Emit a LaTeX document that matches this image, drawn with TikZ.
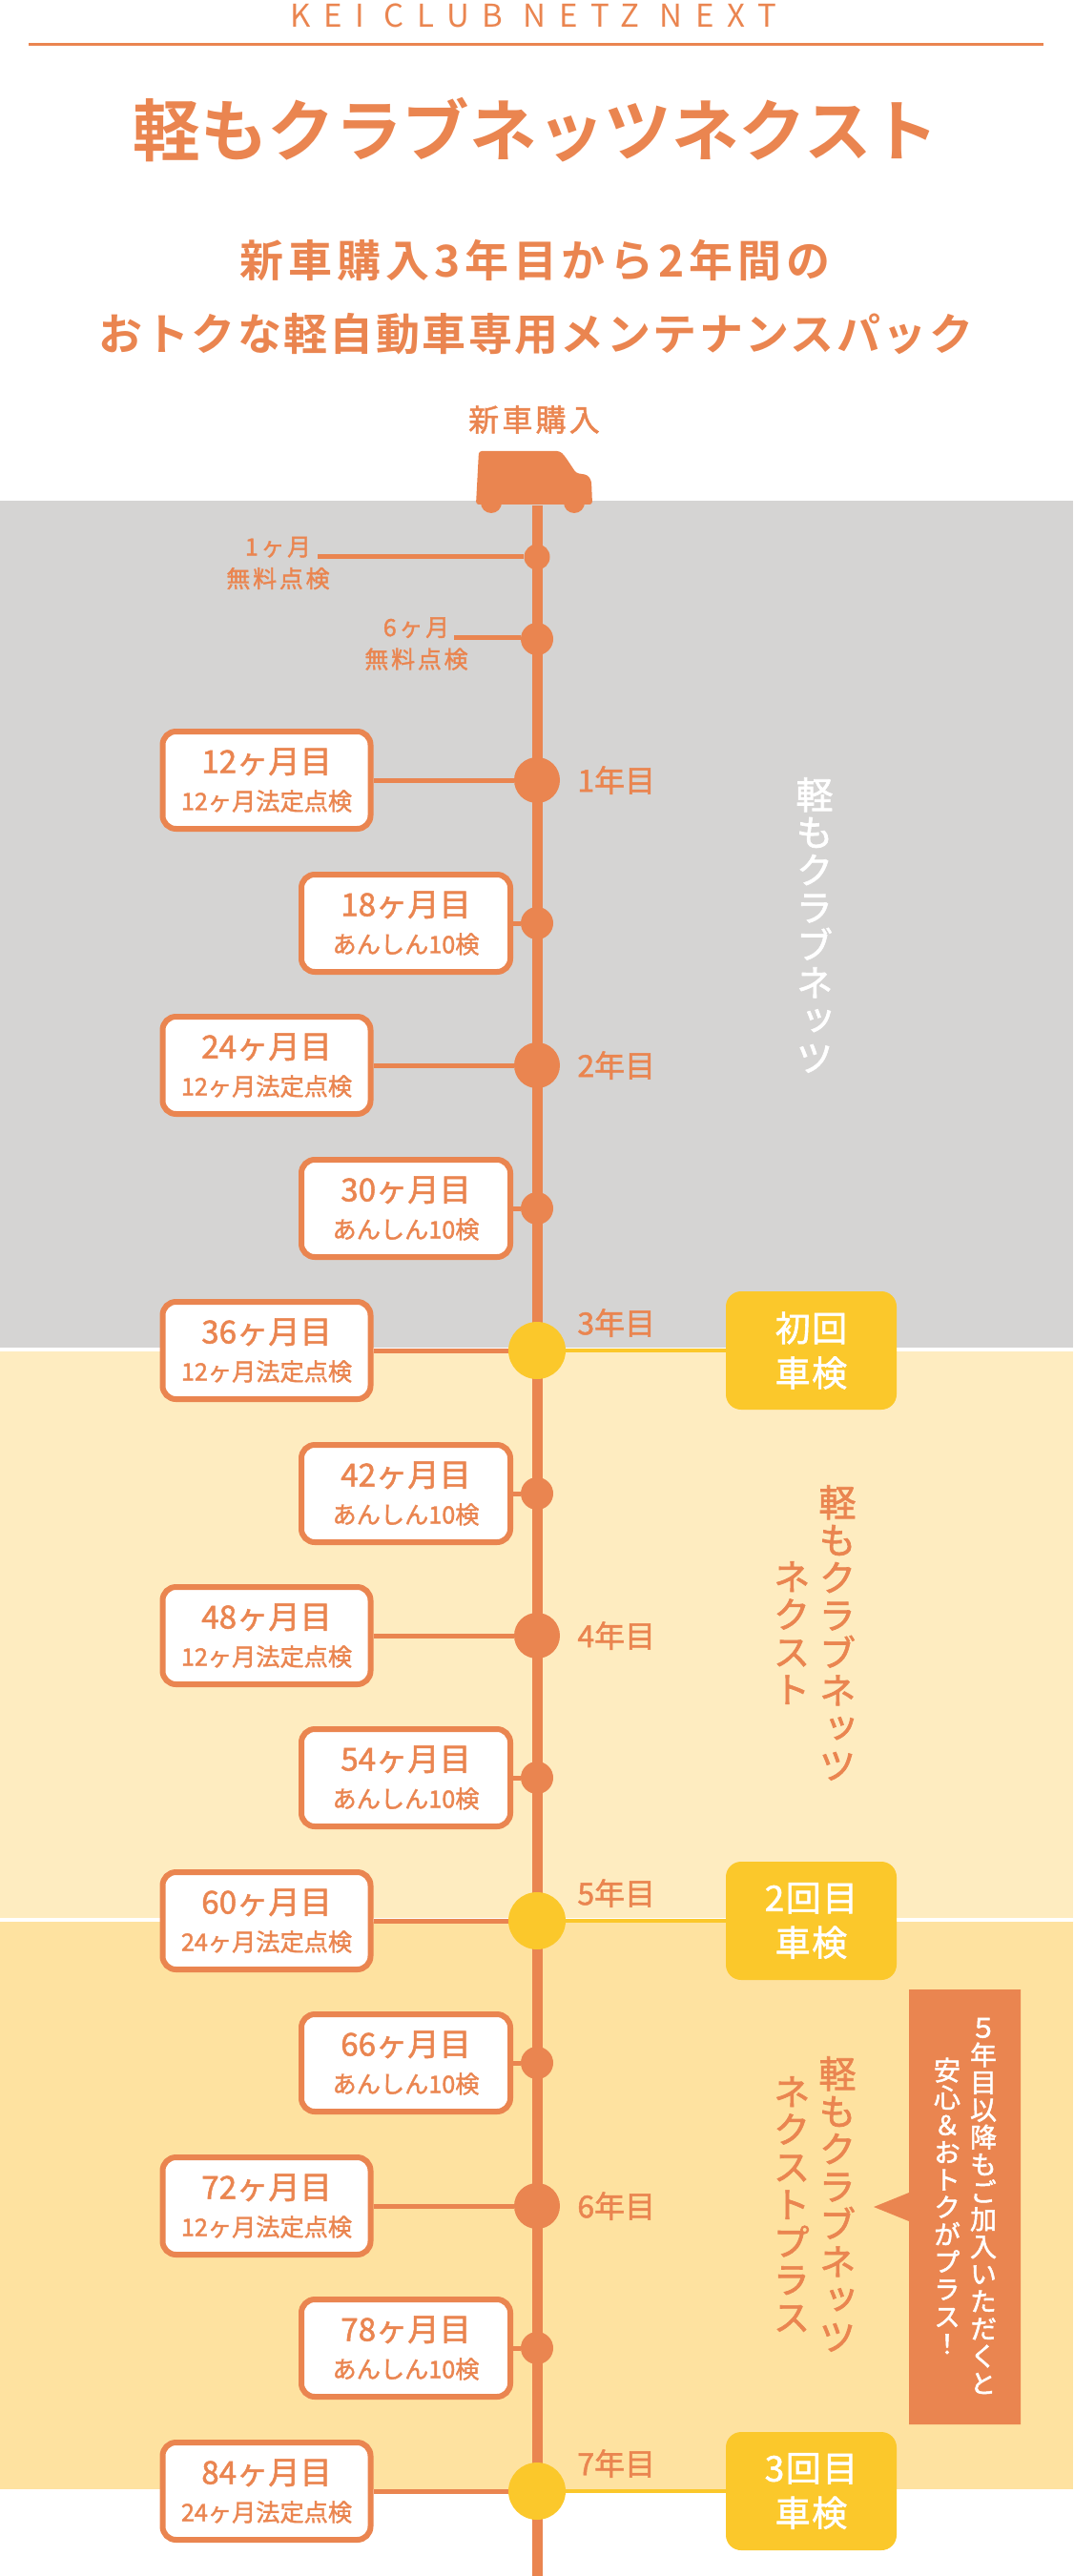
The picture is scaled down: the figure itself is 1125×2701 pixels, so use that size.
\documentclass[tikz,border=0pt]{standalone}
\usepackage{fontspec}
\setmainfont{Noto Sans CJK JP}
\newfontfamily\medfont[FakeBold=1.5]{Noto Sans CJK JP}
\newfontfamily\boldfont{Noto Sans CJK JP Bold}
\newfontfamily\medvert[RawFeature=+vert,FakeBold=1.7]{Noto Sans CJK JP}
\definecolor{keiorange}{HTML}{EA8550}
\definecolor{keigrey}{HTML}{D5D4D3}
\definecolor{keicream}{HTML}{FEECC0}
\definecolor{keitan}{HTML}{FEE2A0}
\definecolor{keiyellow}{HTML}{FBC82B}
\tikzset{
    monthbox/.style={draw=keiorange,fill=white,line width=3pt,rounded corners=7pt,minimum height=51pt,align=center,inner sep=0pt,text=keiorange,font=\medfont\fontsize{16.6}{19.5}\selectfont},
    longbox/.style={monthbox,minimum width=109pt},
    shortbox/.style={monthbox,minimum width=109.5pt},
    bigdot/.style={circle,fill=keiorange,minimum size=24pt,inner sep=0pt},
    smalldot/.style={circle,fill=keiorange,minimum size=17pt,inner sep=0pt},
    tinydot/.style={circle,fill=keiorange,minimum size=13.5pt,inner sep=0pt},
    yellowdot/.style={circle,fill=keiyellow,minimum size=30pt,inner sep=0pt},
    yearlabel/.style={anchor=west,inner sep=0pt,text=keiorange,font=\medfont\fontsize{16}{18}\selectfont},
    shakenbox/.style={fill=keiyellow,rounded corners=8pt,minimum width=89.5pt,minimum height=62pt,align=center,inner sep=0pt,text=white,font=\medfont\fontsize{18.5}{23.5}\selectfont\addfontfeatures{LetterSpace=4}},
    freelabel/.style={align=center,inner sep=0pt,text=keiorange,font=\medfont\fontsize{12.5}{16.75}\selectfont\addfontfeatures{LetterSpace=11}},
    vertcol/.style={align=center,inner sep=0pt,font=\medvert\fontsize{19.5}{19.7}\selectfont},
    calloutcol/.style={align=center,inner sep=0pt,text=white,font=\medvert\fontsize{14}{14.35}\selectfont},
    link/.style={draw=keiorange,line width=2.5pt},
    yellowlink/.style={draw=keiyellow,line width=2.2pt}
}
\begin{document}
\begin{tikzpicture}[x=0.5pt,y=-0.5pt]
    \useasboundingbox (0,0) rectangle (1125,2701);

    % bands
    \fill[keigrey] (0,525) rectangle (1125,1413);
    \fill[keicream] (0,1417) rectangle (1125,2011);
    \fill[keitan] (0,2015) rectangle (1125,2610);

    % heading
    \node[inner sep=0pt,text=keiorange,font=\fontsize{16.5}{20}\selectfont\addfontfeatures{LetterSpace=41.5}] (headEn) at (559,16) {KEI CLUB NETZ NEXT};
    \coordinate (ruleL) at (30,47);
    \coordinate (ruleR) at (1094,47);
    \draw[keiorange,line width=1.5pt] (ruleL) -- (ruleR);
    \node[inner sep=0pt,text=keiorange,font=\boldfont\fontsize{35.3}{40}\selectfont] (title) at (562,136) {軽もクラブネッツネクスト};
    \node[inner sep=0pt,text=keiorange,font=\boldfont\fontsize{23}{38}\selectfont\addfontfeatures{LetterSpace=10.5}] (subtitleA) at (561,273) {新車購入3年目から2年間の};
    \node[inner sep=0pt,text=keiorange,font=\boldfont\fontsize{23}{38}\selectfont\addfontfeatures{LetterSpace=5.2}] (subtitleB) at (562,350) {おトクな軽自動車専用メンテナンスパック};
    \node[inner sep=0pt,text=keiorange,font=\medfont\fontsize{16}{20}\selectfont\addfontfeatures{LetterSpace=10}] (buy) at (560,440) {新車購入};

    % spine
    \coordinate (spineTop) at (563,530);
    \coordinate (spineEnd) at (563,2701);
    \draw[keiorange,line width=5.5pt] (spineTop) -- (spineEnd);

    % car
    \fill[keiorange,rounded corners=1.5pt] (502,473) -- (587,473) -- (592,478) -- (604,496) -- (616,498) -- (620,504) -- (621,529) -- (499,529) -- cycle;
    \fill[keiorange] (515,527) circle (5.5pt) (602,527) circle (5.5pt);

    % free checks
    \node[tinydot] (dot1) at (563,584) {};
    \node[smalldot] (dot6) at (563,670) {};
    \node[freelabel] (free1) at (291.5,590.5) {1ヶ月\\無料点検};
    \node[freelabel] (free6) at (436.5,675) {6ヶ月\\無料点検};
    \coordinate (free1r) at (333,584);
    \coordinate (free6r) at (476,668);
    \draw[link] (free1r) -- (dot1);
    \draw[link] (free6r) -- (dot6.west |- free6r);

    % months
    \foreach \m/\sub/\yy/\kind in {12/12ヶ月法定点検/818/big,24/12ヶ月法定点検/1117/big,36/12ヶ月法定点検/1416/yel,48/12ヶ月法定点検/1715/big,60/24ヶ月法定点検/2014/yel,72/12ヶ月法定点検/2313/big,84/24ヶ月法定点検/2612/yel}{
        \ifnum\pdfstrcmp{\kind}{big}=0
            \node[bigdot] (dot\m) at (563,\yy) {};
        \else
            \node[yellowdot] (dot\m) at (563,\yy) {};
        \fi
        \node[longbox] (box\m) at (279.5,\yy) {\m ヶ月目\\\fontsize{12.6}{19.5}\selectfont \sub};
        \draw[link] (box\m) -- (dot\m);
    }
    \foreach \m/\yy in {18/968,30/1267,42/1566,54/1864,66/2163,78/2462}{
        \node[smalldot] (dot\m) at (563,\yy) {};
        \node[shortbox] (box\m) at (425.5,\yy) {\m ヶ月目\\\fontsize{12.6}{19.5}\selectfont あんしん10検};
        \draw[link] (box\m) -- (dot\m);
    }

    % years
    \foreach \n/\yy in {1/818,2/1117,4/1715,6/2313,3/1387,5/1985,7/2583}
        \node[yearlabel] (year\n) at (605,\yy) {\n 年目};

    % shaken
    \node[shakenbox] (shaken1) at (850.5,1416) {初回\\車検};
    \node[shakenbox] (shaken2) at (850.5,2014) {2回目\\車検};
    \node[shakenbox] (shaken3) at (850.5,2612) {3回目\\車検};
    \draw[yellowlink] (dot36) -- (shaken1);
    \draw[yellowlink] (dot60) -- (shaken2);
    \draw[yellowlink] (dot84) -- (shaken3);

    % vertical names
    \node[vertcol,text=white] (plan1) at (854,970) {軽\\も\\ク\\ラ\\ブ\\ネ\\ッ\\ツ};
    \node[vertcol,text=keiorange] (plan2a) at (878,1712) {軽\\も\\ク\\ラ\\ブ\\ネ\\ッ\\ツ};
    \node[vertcol,text=keiorange] (plan2b) at (830,1712) {ネ\\ク\\ス\\ト};
    \node[vertcol,text=keiorange] (plan3a) at (878,2311) {軽\\も\\ク\\ラ\\ブ\\ネ\\ッ\\ツ};
    \node[vertcol,text=keiorange] (plan3b) at (830,2311) {ネ\\ク\\ス\\ト\\プ\\ラ\\ス};

    % callout
    \fill[keiorange] (953,2086) -- (1070,2086) -- (1070,2542) -- (953,2542) -- (953,2329) -- (916,2314) -- (953,2299) -- cycle;
    \node[calloutcol] (calloutA) at (1031,2313) {５\\年\\目\\以\\降\\も\\ご\\加\\入\\い\\た\\だ\\く\\と};
    \node[calloutcol] (calloutB) at (993,2313) {安\\心\\＆\\お\\ト\\ク\\が\\プ\\ラ\\ス\\！};
\end{tikzpicture}
\end{document}
